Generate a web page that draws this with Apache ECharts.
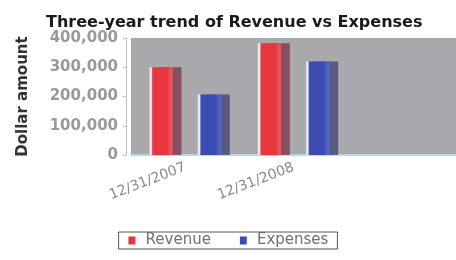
<!DOCTYPE html>
<html>
<head>
<meta charset="utf-8">
<script src="https://cdn.jsdelivr.net/npm/echarts@6/dist/echarts.min.js"></script>
<style>
  html, body { margin: 0; padding: 0; background: #ffffff; }
  #chart { width: 456px; height: 260px; }
</style>
</head>
<body>
<div id="chart"></div>
<script>
// three periods on the axis, only two have data
const categories = ['12/31/2007', '12/31/2008', ''];
const revenue = [300000, 382000, null];
const expenses = [207000, 320000, null];
const yTicks = { min: 0, max: 400000, interval: 100000 };

const FONT = 'DejaVu Sans, Liberation Sans, Arial, sans-serif';

function faceGradient(edge, main, side) {
  return new echarts.graphic.LinearGradient(0, 0, 1, 0, [
    { offset: 0, color: edge },
    { offset: 0.08, color: edge },
    { offset: 0.14, color: main },
    { offset: 0.75, color: main },
    { offset: 1, color: side }
  ]);
}

const chart = echarts.init(document.getElementById('chart'), null, { renderer: 'canvas' });

chart.setOption({
  animation: false,
  backgroundColor: '#ffffff',
  title: {
    text: 'Three-year trend of Revenue vs Expenses',
    left: 41,
    top: 10,
    textStyle: {
      fontFamily: FONT,
      fontWeight: 'bold',
      fontSize: 16,
      color: '#1a1a1a'
    }
  },
  grid: {
    left: 131,
    right: 0,
    top: 38,
    bottom: 105,
    show: true,
    backgroundColor: '#a9a9ad',
    borderWidth: 0
  },
  legend: {
    bottom: 11,
    left: 'center',
    itemWidth: 8,
    itemHeight: 8,
    itemGap: 28,
    padding: [1, 9],
    borderColor: '#555555',
    borderWidth: 1,
    textStyle: {
      fontFamily: FONT,
      fontSize: 15,
      color: '#707070',
      padding: [0, 0, 0, 5]
    },
    data: [
      { name: 'Revenue', icon: 'rect' },
      { name: 'Expenses', icon: 'rect' }
    ]
  },
  xAxis: {
    type: 'category',
    data: categories,
    axisLine: { lineStyle: { color: '#b8d4f0', width: 2 } },
    axisTick: { show: false },
    axisLabel: {
      rotate: 21,
      margin: 12,
      fontFamily: FONT,
      fontSize: 14,
      color: '#8a8a8a',
      interval: 0
    }
  },
  yAxis: {
    type: 'value',
    min: yTicks.min,
    max: yTicks.max,
    interval: yTicks.interval,
    offset: 5,
    name: 'Dollar amount',
    nameLocation: 'middle',
    nameGap: 95,
    nameTextStyle: {
      fontFamily: FONT,
      fontWeight: 'bold',
      fontSize: 15,
      color: '#333333'
    },
    axisLine: { show: true, lineStyle: { color: '#c0c0c0' } },
    axisTick: { show: true, length: 3, lineStyle: { color: '#c0c0c0' } },
    splitLine: { show: false },
    axisLabel: {
      margin: 8,
      fontFamily: FONT,
      fontWeight: 'bold',
      fontSize: 15,
      color: '#999999',
      formatter: (v) => v.toLocaleString('en-US')
    }
  },
  series: [
    {
      name: 'Revenue',
      type: 'bar',
      data: revenue,
      barWidth: 23,
      barGap: '110%',
      color: '#e8404a',
      itemStyle: {
        color: faceGradient('#ffe4e6', '#e8363f', '#e8606a'),
        shadowColor: 'rgba(120,50,70,0.75)',
        shadowOffsetX: 9,
        shadowOffsetY: 0,
        shadowBlur: 0
      }
    },
    {
      name: 'Expenses',
      type: 'bar',
      data: expenses,
      barWidth: 23,
      color: '#3f52b4',
      itemStyle: {
        color: faceGradient('#e4eaff', '#3a4cb4', '#5a6cc4'),
        shadowColor: 'rgba(60,64,110,0.75)',
        shadowOffsetX: 9,
        shadowOffsetY: 0,
        shadowBlur: 0
      }
    }
  ]
});
</script>
</body>
</html>
